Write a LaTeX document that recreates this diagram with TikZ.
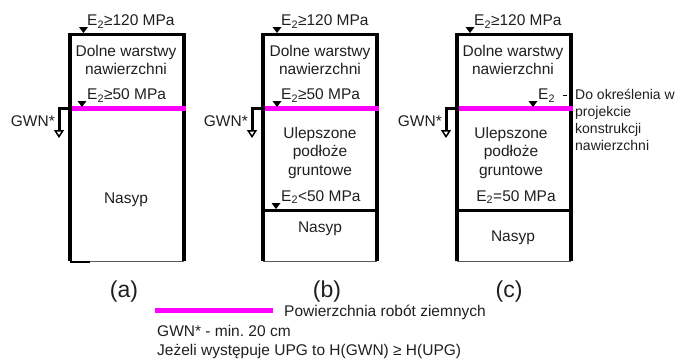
\documentclass[tikz,border=0pt]{standalone}
\usepackage{fontspec}
\setmainfont{Liberation Sans}
\usetikzlibrary{arrows.meta}
\definecolor{robotmag}{RGB}{255,0,255}
\frenchspacing

\begin{document}
\begin{tikzpicture}[x=1pt, y=-1pt, line join=miter,
   txt/.style={font=\fontsize{15.5}{18.5}\selectfont, inner sep=0pt, text=black!88},
   block/.style={txt, align=center, anchor=north},
   note/.style={font=\fontsize{14}{17.1}\selectfont, inner sep=0pt, align=left, anchor=north west, text=black!88},
   panel/.style={font=\fontsize{23}{26}\selectfont, inner sep=0pt, anchor=base, text=black!88},
   wall/.style={line width=3.3pt},
   floor/.style={line width=1pt, color=black!65},
   robot/.style={line width=5pt, color=robotmag},
   gwn/.style={line width=3pt, -{Triangle[open, fill=white, width=10pt, length=8pt, line width=1.5pt]}}]
   \useasboundingbox (0,0) rectangle (683,362);

   % (a)
   \draw[wall] (70,261) -- (70,34.5) -- (184,34.5) -- (184,261);
   \draw[floor] (70,261) -- (184,261);
   \draw[line width=2.5pt] (70,262) -- (90,262);
   \draw[robot] (71.7,108.5) -- (186,108.5);
   \coordinate (a-gwn) at (70,108.5);
   \coordinate (a-gwnend) at (59,138);
   \draw[gwn] (a-gwn) -| (a-gwnend);
   \fill (83.5,33) -- ++(-4.5,-6) -- ++(9,0) -- cycle;
   \fill (82,107) -- ++(-4.5,-6) -- ++(9,0) -- cycle;
   \node[txt, anchor=base west] (a-e120) at (87,25.5) {E\textsubscript{2}≥120 MPa};
   \node[block] (a-dolne) at (126,45) {Dolne warstwy\\nawierzchni};
   \node[txt, anchor=base west] (a-e50) at (87,99.5) {E\textsubscript{2}≥50 MPa};
   \node[txt, anchor=base east] (a-gwntxt) at (55,126) {GWN*};
   \node[txt, anchor=base] (a-nasyp) at (126,203) {Nasyp};
   \node[panel] (a-label) at (124,297.5) {(a)};

   % (b)
   \draw[wall] (263,261) -- (263,34.5) -- (377,34.5) -- (377,261);
   \draw[floor] (263,261) -- (377,261);
   \draw[wall] (263,210.5) -- (377,210.5);
   \draw[robot] (264.7,108.5) -- (379,108.5);
   \coordinate (b-gwn) at (263,108.5);
   \coordinate (b-gwnend) at (252,138);
   \draw[gwn] (b-gwn) -| (b-gwnend);
   \fill (277,33) -- ++(-4.5,-6) -- ++(9,0) -- cycle;
   \fill (277,107) -- ++(-4.5,-6) -- ++(9,0) -- cycle;
   \fill (276,209) -- ++(-4.5,-6) -- ++(9,0) -- cycle;
   \node[txt, anchor=base west] (b-e120) at (281,25.5) {E\textsubscript{2}≥120 MPa};
   \node[block] (b-dolne) at (320,45) {Dolne warstwy\\nawierzchni};
   \node[txt, anchor=base west] (b-e50) at (281,99.5) {E\textsubscript{2}≥50 MPa};
   \node[txt, anchor=base east] (b-gwntxt) at (248,126) {GWN*};
   \node[block] (b-ulep) at (320,127) {Ulepszone\\podłoże\\gruntowe};
   \node[txt, anchor=base west] (b-e50low) at (281,201) {E\textsubscript{2}<50 MPa};
   \node[txt, anchor=base] (b-nasyp) at (320,232.5) {Nasyp};
   \node[panel] (b-label) at (327,297.5) {(b)};

   % (c)
   \draw[wall] (457,261) -- (457,34.5) -- (571,34.5) -- (571,261);
   \draw[floor] (457,261) -- (571,261);
   \draw[wall] (457,210.5) -- (571,210.5);
   \draw[robot] (458.7,108.5) -- (573,108.5);
   \coordinate (c-gwn) at (457,108.5);
   \coordinate (c-gwnend) at (446,138);
   \draw[gwn] (c-gwn) -| (c-gwnend);
   \fill (470,33) -- ++(-4.5,-6) -- ++(9,0) -- cycle;
   \fill (533,107) -- ++(-4.5,-6) -- ++(9,0) -- cycle;
   \node[txt, anchor=base west] (c-e120) at (474,25.5) {E\textsubscript{2}≥120 MPa};
   \node[block] (c-dolne) at (513,45) {Dolne warstwy\\nawierzchni};
   \node[txt, anchor=base west] (c-e2) at (538,99.5) {E\textsubscript{2}};
   \node[note] (c-note) at (575,89) {Do określenia w\\projekcie\\konstrukcji\\nawierzchni};
   \draw[line width=1pt, shorten <=8pt, shorten >=8pt] (c-e2.east) -- (c-e2.east -| c-note.west);
   \node[txt, anchor=base east] (c-gwntxt) at (442,126) {GWN*};
   \node[block] (c-ulep) at (511,127) {Ulepszone\\podłoże\\gruntowe};
   \node[txt, anchor=base] (c-e50) at (516,201) {E\textsubscript{2}=50 MPa};
   \node[txt, anchor=base] (c-nasyp) at (513,241) {Nasyp};
   \node[panel] (c-label) at (509,297.5) {(c)};

   % legend
   \coordinate (leg-from) at (155,310);
   \coordinate (leg-to) at (273,310);
   \draw[robot] (leg-from) -- (leg-to);
   \node[txt, anchor=base west] (leg-robot) at (284,316.5) {Powierzchnia robót ziemnych};
   \node[txt, anchor=base west] (leg-gwn) at (157,336.5) {GWN* - min. 20 cm};
   \node[txt, anchor=base west] (leg-upg) at (157,355) {Jeżeli występuje UPG to H(GWN) ≥ H(UPG)};
\end{tikzpicture}
\end{document}
